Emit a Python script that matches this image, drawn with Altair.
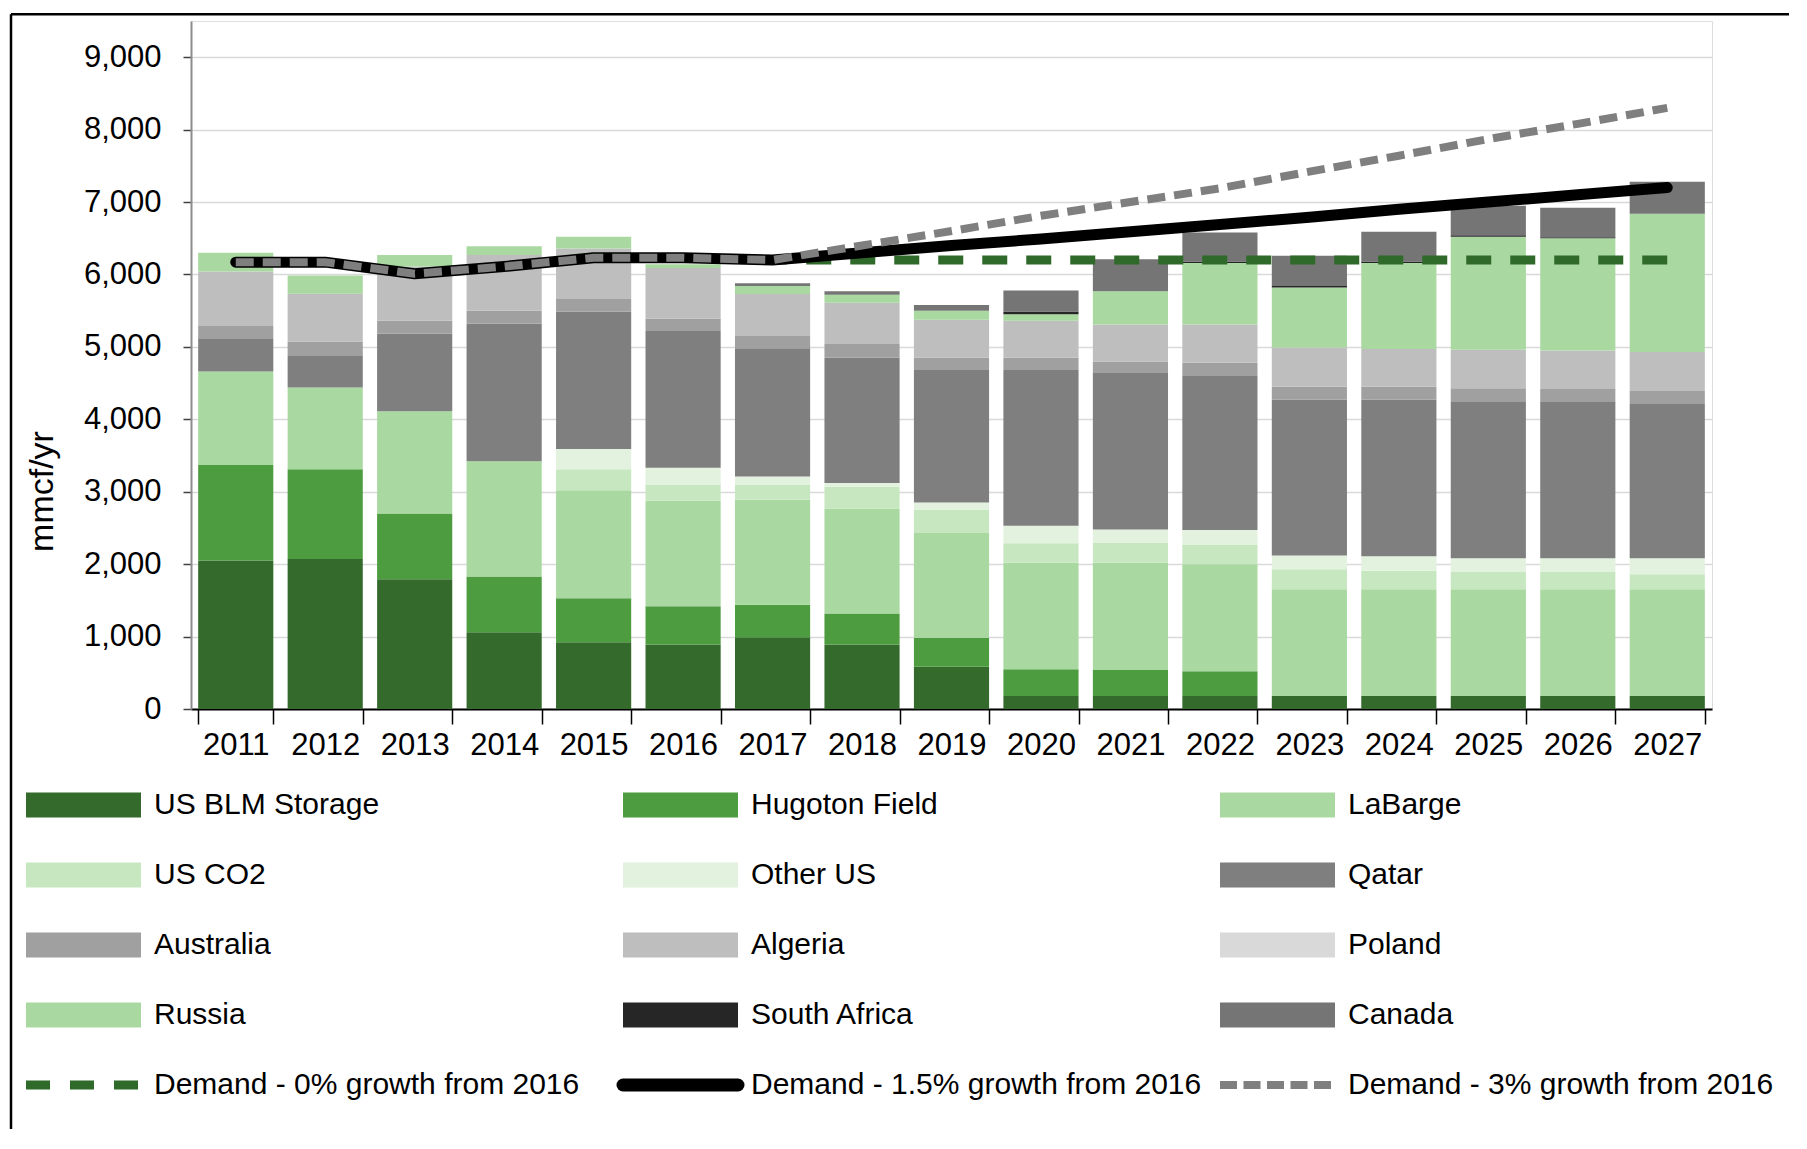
import altair as alt
import pandas as pd

years = [str(y) for y in range(2011, 2028)]

series_names = ["US BLM Storage", "Hugoton Field", "LaBarge", "US CO2", "Other US", "Qatar",
                "Australia", "Algeria", "Poland", "Russia", "South Africa", "Canada"]
series_colors = ["#346b2d", "#4d9c40", "#a9d9a0", "#c6e7bf", "#e2f2de", "#7f7f7f",
                 "#a0a0a0", "#bebebe", "#d9d9d9", "#a9d9a0", "#262626", "#757575"]

us_blm_storage = [2050, 2070, 1790, 1060, 920, 890, 990, 890, 585, 180, 180, 180, 180, 180, 180, 180, 180]
hugoton_field = [1320, 1240, 910, 770, 610, 530, 450, 430, 400, 370, 360, 340, 0, 0, 0, 0, 0]
labarge = [1290, 1130, 1410, 1590, 1490, 1455, 1450, 1450, 1445, 1470, 1480, 1480, 1475, 1475, 1475, 1475, 1475]
us_co2 = [0, 0, 0, 0, 290, 225, 210, 300, 320, 270, 280, 270, 275, 255, 245, 245, 205]
other_us = [0, 0, 0, 0, 280, 230, 110, 50, 100, 240, 180, 200, 190, 200, 180, 180, 220]
qatar = [460, 445, 1070, 1900, 1900, 1890, 1770, 1730, 1830, 2150, 2160, 2140, 2150, 2160, 2170, 2170, 2130]
australia = [170, 190, 180, 180, 170, 170, 170, 190, 170, 170, 160, 170, 180, 180, 180, 170, 180]
algeria = [750, 660, 750, 770, 700, 700, 580, 570, 525, 510, 510, 530, 540, 520, 530, 530, 540]
poland = [0, 0, 0, 0, 0, 0, 0, 0, 0, 0, 0, 0, 0, 0, 0, 0, 0]
russia = [260, 250, 160, 120, 160, 50, 110, 110, 125, 90, 460, 850, 830, 1190, 1560, 1550, 1910]
south_africa = [0, 0, 0, 0, 0, 0, 0, 0, 0, 40, 0, 20, 20, 20, 20, 15, 0]
canada = [0, 0, 0, 0, 0, 0, 40, 50, 80, 290, 440, 400, 420, 410, 410, 405, 440]

demand_names = ["Demand - 0% growth from 2016", "Demand - 1.5% growth from 2016",
                "Demand - 3% growth from 2016"]
demand_0 = [6170, 6170, 6010, 6110, 6230, 6230, 6200, 6200, 6200, 6200, 6200, 6200, 6200, 6200, 6200, 6200, 6200]
demand_15 = [6170, 6170, 6010, 6110, 6230, 6230, 6200, 6300, 6400, 6490, 6590, 6690, 6790, 6900, 7000, 7100, 7200]
demand_3 = [6170, 6170, 6010, 6110, 6230, 6230, 6200, 6400, 6600, 6810, 7000, 7190, 7420, 7640, 7870, 8080, 8300]

series_values = [us_blm_storage, hugoton_field, labarge, us_co2, other_us, qatar,
                 australia, algeria, poland, russia, south_africa, canada]

rows = []
for i, (name, vals) in enumerate(zip(series_names, series_values)):
    for y, v in zip(years, vals):
        rows.append({"year": y, "series": name, "value": v, "order": i})
bar_df = pd.DataFrame(rows)

FONT = "Liberation Sans"

x_enc = alt.X("year:O", sort=years,
              scale=alt.Scale(domain=years, paddingInner=0.16, paddingOuter=0.08),
              axis=alt.Axis(title=None, labelAngle=0, tickBand="extent", tickSize=15,
                            tickColor="#000000", tickWidth=1.5, domainColor="#000000",
                            domainWidth=2, labelFont=FONT, labelFontSize=31,
                            labelColor="#000000", labelPadding=6, grid=False))
y_scale = alt.Scale(domain=[0, 9500], nice=False)

bars = alt.Chart(bar_df).mark_bar().encode(
    x=x_enc,
    y=alt.Y("value:Q", stack="zero", scale=y_scale,
            axis=alt.Axis(title="mmcf/yr", values=list(range(0, 10000, 1000)), format=",d",
                          grid=True, gridColor="#d9d9d9", gridWidth=1.5,
                          domainColor="#8c8c8c", domainWidth=2, tickColor="#404040",
                          tickSize=8, tickWidth=1.5, labelFont=FONT, labelFontSize=31,
                          labelColor="#000000", labelPadding=22,
                          titleFont=FONT, titleFontSize=34,
                          titleFontWeight="normal", titleColor="#000000", titleAngle=270,
                          titleX=-149, titleY=470, titleAlign="center", titleBaseline="middle")),
    color=alt.Color("series:N", scale=alt.Scale(domain=series_names, range=series_colors),
                    legend=None),
    order=alt.Order("order:Q", sort="ascending"),
)


def demand_line(vals, color, width, dash=None, cap="butt"):
    df = pd.DataFrame({"year": years, "value": vals})
    kw = dict(color=color, strokeWidth=width, strokeCap=cap, strokeJoin="round")
    if dash:
        kw["strokeDash"] = dash
    return alt.Chart(df).mark_line(**kw).encode(
        x=alt.X("year:O", sort=years), y=alt.Y("value:Q", scale=y_scale))


line0 = demand_line(demand_0, "#2f6a2a", 9, [25, 19])
line15 = demand_line(demand_15, "#000000", 11, None, "round")
line3 = demand_line(demand_3, "#7f7f7f", 8, [18, 9])

main = alt.layer(bars, line0, line15, line3)

# ---- legend (3 columns x 5 rows) ----
legend_names = series_names + demand_names
leg_df = pd.DataFrame({
    "name": legend_names,
    "col": [i % 3 for i in range(len(legend_names))],
    "row": [i // 3 for i in range(len(legend_names))],
})
lx = alt.Scale(domain=[0, 2], range=[-165, 1029], nice=False, zero=False)
ly = alt.Scale(domain=[0, 4], range=[784, 1064], nice=False, zero=False)

leg_base = alt.Chart(leg_df)
leg_rect = leg_base.transform_filter(alt.datum.row < 4).mark_rect(
    x2Offset=115, yOffset=-12.5, y2Offset=12.5).encode(
    x=alt.X("col:Q", scale=lx, axis=None), x2="col:Q",
    y=alt.Y("row:Q", scale=ly, axis=None), y2="row:Q",
    color=alt.Color("name:N", scale=alt.Scale(domain=series_names, range=series_colors),
                    legend=None),
)


def leg_line(name, color, width, dash=None, cap="butt"):
    kw = dict(color=color, strokeWidth=width, strokeCap=cap, x2Offset=115)
    if dash:
        kw["strokeDash"] = dash
    return leg_base.transform_filter(alt.datum.name == name).mark_rule(**kw).encode(
        x=alt.X("col:Q", scale=lx, axis=None), x2="col:Q",
        y=alt.Y("row:Q", scale=ly, axis=None))


leg_l0 = leg_line(demand_names[0], "#2f6a2a", 9, [24, 20])
leg_l15 = leg_line(demand_names[1], "#000000", 13, None, "round")
leg_l3 = leg_line(demand_names[2], "#7f7f7f", 8, [17, 6.5])

leg_text = leg_base.mark_text(align="left", baseline="middle", dx=128, font=FONT,
                              fontSize=30, color="#000000").encode(
    x=alt.X("col:Q", scale=lx, axis=None),
    y=alt.Y("row:Q", scale=ly, axis=None),
    text="name:N")

frame_top = alt.Chart(pd.DataFrame({"k": [0]})).mark_rule(color="#000000", strokeWidth=2.5).encode(
    x=alt.value(-180), x2=alt.value(1598), y=alt.value(-6.7))
frame_left = alt.Chart(pd.DataFrame({"k": [0]})).mark_rule(color="#000000", strokeWidth=2.5).encode(
    x=alt.value(-180), y=alt.value(-6.7), y2=alt.value(1108))

legend = alt.layer(leg_rect, leg_l0, leg_l15, leg_l3, leg_text)

chart = alt.layer(main, legend, frame_top, frame_left).resolve_scale(
    x="independent", y="independent", color="independent"
).properties(
    width=1521, height=688,
    padding={"left": 1, "top": 5, "right": 2, "bottom": 0},
).configure_view(stroke=None).configure(background="#ffffff")

chart.save("out.html", embed_options={"renderer": "svg", "actions": False})
